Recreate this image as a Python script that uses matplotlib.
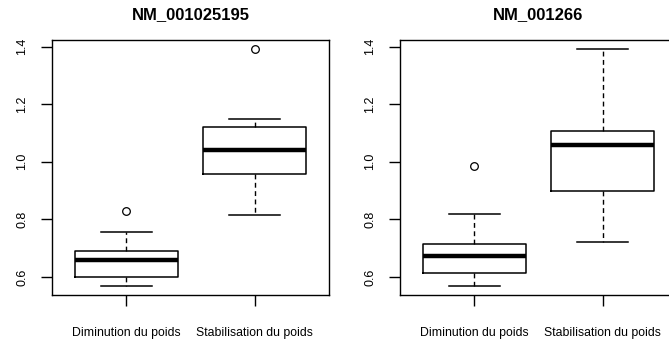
import matplotlib
matplotlib.use("Agg")
import matplotlib.pyplot as plt

plt.rcParams['font.family'] = ['Liberation Sans', 'DejaVu Sans']

groups = ["Diminution du poids", "Stabilisation du poids"]
titles = ["NM_001025195", "NM_001266"]

# per panel: [group1, group2]
whislo = [[0.570, 0.816], [0.570, 0.721]]
q1 = [[0.600, 0.957], [0.615, 0.898]]
med = [[0.658, 1.042], [0.672, 1.058]]
q3 = [[0.689, 1.120], [0.716, 1.106]]
whishi = [[0.755, 1.149], [0.819, 1.392]]
fliers = [[[0.828], [1.392]], [[0.984], []]]

W, H = 669, 340
fig = plt.figure(figsize=(W / 100, H / 100), dpi=100)
lefts = [52, 400]
for p in range(2):
    ax = fig.add_axes([lefts[p] / W, (H - 295) / H, 277 / W, 255.5 / H])
    stats = []
    for g in range(2):
        stats.append(dict(med=med[p][g], q1=q1[p][g], q3=q3[p][g],
                          whislo=whislo[p][g], whishi=whishi[p][g],
                          fliers=fliers[p][g], label=groups[g]))
    ax.bxp(stats, positions=[1, 2], widths=0.8,
           boxprops=dict(color='black', linewidth=1.1),
           medianprops=dict(color='black', linewidth=3.2, solid_capstyle='butt'),
           whiskerprops=dict(color='black', linewidth=1.0, linestyle=(0, (3.5, 2.5))),
           capprops=dict(color='black', linewidth=1.1),
           capwidths=0.4,
           flierprops=dict(marker='o', markersize=5.5, markerfacecolor='none',
                           markeredgecolor='black', markeredgewidth=0.9))
    lo = min(whislo[p] + sum(fliers[p], []))
    hi = max(whishi[p] + sum(fliers[p], []))
    ext = (hi - lo) * 0.04
    ax.set_ylim(lo - ext, hi + ext)
    ax.set_xlim(0.42, 2.58)
    ax.set_yticks([0.6, 0.8, 1.0, 1.2, 1.4])
    ax.set_yticklabels(["0.6", "0.8", "1.0", "1.2", "1.4"], rotation=90, va='center')
    ax.tick_params(axis='y', length=8, width=1, pad=9, labelsize=9)
    ax.tick_params(axis='x', length=8, width=1, pad=15, labelsize=8.8)
    for s in ax.spines.values():
        s.set_linewidth(1.0)
    ax.set_title(titles[p], fontsize=12, fontweight='bold', pad=15)

fig.savefig("out.png", dpi=100)
